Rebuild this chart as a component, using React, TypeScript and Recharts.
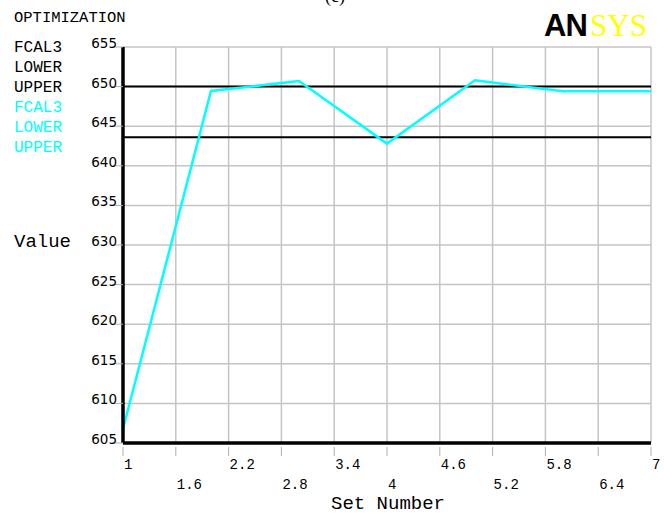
import { LineChart, Line, XAxis, YAxis, CartesianGrid, ReferenceLine } from 'recharts'

const setNumbers = [1, 2, 3, 4, 5, 6, 7]
const fcal3 = [606.8, 649.45, 650.7, 642.8, 650.8, 649.4, 649.4]
const lowerLimit = 643.6
const upperLimit = 650

const xTicks = [1, 1.6, 2.2, 2.8, 3.4, 4, 4.6, 5.2, 5.8, 6.4, 7]
const yTicks = [605, 610, 615, 620, 625, 630, 635, 640, 645, 650, 655]

const legendLabels = ['FCAL3', 'LOWER', 'UPPER']

const data = setNumbers.map((s, i) => ({ set: s, fcal3: fcal3[i] }))

const MONO = '"Liberation Mono", "DejaVu Sans Mono", monospace'
const CYAN = '#00ffff'

// x labels alternate between two rows, left-aligned on the tick
const XTick = (props: any) => {
  const { x, y, payload, index } = props
  const row = index % 2
  return (
    <g>
      <line x1={x} x2={x} y1={y + 4} y2={y + 13} stroke="#b0b0b0" strokeWidth={1} />
      <text x={x + 1} y={y + 26 + row * 20} fontFamily={MONO} fontSize={14} fill="#000">
        {String(payload.value)}
      </text>
    </g>
  )
}

const YTick = (props: any) => {
  const { x, y, payload } = props
  return (
    <g>
      <line x1={x - 11} x2={x} y1={y} y2={y} stroke="#b0b0b0" strokeWidth={1} />
      <text x={x - 6} y={y + 1} textAnchor="end" fontFamily='"DejaVu Sans", Verdana, sans-serif' fontSize={13.5} fill="#000">
        {payload.value}
      </text>
    </g>
  )
}

export default function App() {
  return (
    <div style={{ position: 'absolute', left: 0, top: 0, width: 664, height: 515, background: '#fff' }}>
      <LineChart width={664} height={515} data={data} margin={{ top: 47, right: 13, left: 0, bottom: 0 }}>
        <CartesianGrid stroke="#c4c4c4" strokeWidth={1.5} />
        <XAxis
          dataKey="set"
          type="number"
          domain={[1, 7]}
          ticks={xTicks}
          height={72}
          tickSize={0}
          tickMargin={0}
          tickLine={false}
          tick={<XTick />}
          axisLine={{ stroke: '#000', strokeWidth: 3.5 }}
        />
        <YAxis
          type="number"
          domain={[605, 655]}
          ticks={yTicks}
          width={123}
          tickSize={0}
          tickMargin={0}
          tickLine={false}
          tick={<YTick />}
          axisLine={{ stroke: '#000', strokeWidth: 3.5 }}
        />
        <ReferenceLine y={upperLimit} stroke="#000" strokeWidth={2} />
        <ReferenceLine y={lowerLimit} stroke="#000" strokeWidth={2} />
        <Line
          dataKey="fcal3"
          stroke={CYAN}
          strokeWidth={2.5}
          dot={false}
          isAnimationActive={false}
        />
        <text x={335} y={2} fontFamily='"Liberation Serif", serif' fontSize={18} textAnchor="middle">(c)</text>
        <text x={14} y={22} fontFamily={MONO} fontSize={15.5}>OPTIMIZATION</text>
        {legendLabels.map((l, i) => (
          <text key={'k' + l} x={14} y={52 + i * 20} fontFamily={MONO} fontSize={16}>{l}</text>
        ))}
        {legendLabels.map((l, i) => (
          <text key={'c' + l} x={14} y={112 + i * 20} fontFamily={MONO} fontSize={16} fill={CYAN}>{l}</text>
        ))}
        <text x={14} y={247} fontFamily={MONO} fontSize={19}>Value</text>
        <text x={388} y={509} fontFamily={MONO} fontSize={19} textAnchor="middle">Set Number</text>
        <text x={544} y={36} fontFamily='"Liberation Sans", Arial, sans-serif' fontWeight={900} fontSize={31} letterSpacing={-1}>AN</text>
        <text x={590} y={36} fontFamily='"Liberation Serif", serif' fontSize={31} fill="#ffff00">SYS</text>
      </LineChart>
    </div>
  )
}
